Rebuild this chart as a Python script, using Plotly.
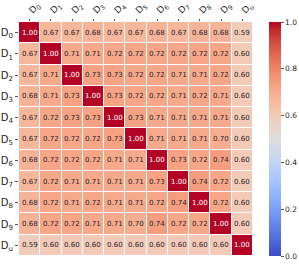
import plotly.graph_objects as go

labels = ["0", "1", "2", "3", "4", "5", "6", "7", "8", "9", "u"]
tick_text = ["D<sub>%s</sub>" % s for s in labels]

corr = [
    [1.00, 0.67, 0.67, 0.68, 0.67, 0.67, 0.68, 0.67, 0.68, 0.68, 0.59],
    [0.67, 1.00, 0.71, 0.71, 0.72, 0.72, 0.72, 0.72, 0.72, 0.72, 0.60],
    [0.67, 0.71, 1.00, 0.73, 0.73, 0.72, 0.72, 0.71, 0.71, 0.72, 0.60],
    [0.68, 0.71, 0.73, 1.00, 0.73, 0.72, 0.72, 0.71, 0.72, 0.71, 0.60],
    [0.67, 0.72, 0.73, 0.73, 1.00, 0.73, 0.71, 0.71, 0.71, 0.71, 0.60],
    [0.67, 0.72, 0.72, 0.72, 0.73, 1.00, 0.71, 0.71, 0.71, 0.70, 0.60],
    [0.68, 0.72, 0.72, 0.72, 0.71, 0.71, 1.00, 0.73, 0.72, 0.74, 0.60],
    [0.67, 0.72, 0.71, 0.71, 0.71, 0.71, 0.73, 1.00, 0.74, 0.72, 0.60],
    [0.68, 0.72, 0.71, 0.72, 0.71, 0.71, 0.72, 0.74, 1.00, 0.72, 0.60],
    [0.68, 0.72, 0.72, 0.71, 0.71, 0.70, 0.74, 0.72, 0.72, 1.00, 0.60],
    [0.59, 0.60, 0.60, 0.60, 0.60, 0.60, 0.60, 0.60, 0.60, 0.60, 1.00],
]

cw = [
    (59, 76, 192), (68, 90, 204), (77, 104, 215), (87, 117, 225), (98, 130, 234),
    (108, 142, 241), (119, 154, 247), (130, 165, 251), (141, 176, 254), (152, 185, 255),
    (163, 194, 255), (174, 201, 253), (184, 208, 249), (194, 213, 244), (204, 217, 238),
    (213, 219, 230), (221, 221, 221), (229, 216, 209), (236, 211, 197), (241, 204, 185),
    (245, 196, 173), (247, 187, 160), (247, 177, 148), (247, 166, 135), (244, 154, 123),
    (241, 141, 111), (236, 127, 99), (229, 112, 88), (222, 96, 77), (213, 80, 66),
    (203, 62, 56), (192, 40, 47), (180, 4, 38),
]
colorscale = [[i / (len(cw) - 1), "rgb(%d,%d,%d)" % c] for i, c in enumerate(cw)]

n = len(labels)
fig = go.Figure()
fig.add_trace(go.Heatmap(
    z=corr, x=list(range(n)), y=list(range(n)),
    zmin=0, zmax=1, colorscale=colorscale, xgap=1, ygap=1,
    hoverinfo="skip",
    colorbar=dict(
        x=1.068, xref="paper", xanchor="left", y=0.5, yanchor="middle",
        len=234, lenmode="pixels",
        thickness=12, thicknessmode="pixels", outlinewidth=0,
        ticks="outside", ticklen=3, tickwidth=1,
        tickcolor="#555", tickvals=[0, 0.2, 0.4, 0.6, 0.8, 1.0],
        ticktext=["0.0", "0.2", "0.4", "0.6", "0.8", "1.0"],
        tickfont=dict(size=7.5, color="#262626", family="DejaVu Sans"),
        xpad=0, ypad=0,
    ),
))

annotations = []
for i in range(n):
    for j in range(n):
        v = corr[i][j]
        annotations.append(dict(
            x=j, y=i, xref="x", yref="y", text="%.2f" % v, showarrow=False,
            font=dict(size=7, family="DejaVu Sans", color="white" if v > 0.9 else "#262626"),
        ))

fig.update_layout(
    width=299, height=264,
    margin=dict(l=19, r=46, t=22, b=8, autoexpand=False),
    paper_bgcolor="white", plot_bgcolor="white",
    annotations=annotations,
    font=dict(family="DejaVu Sans", color="#262626"),
    xaxis=dict(
        side="top", tickmode="array", tickvals=list(range(n)), ticktext=tick_text,
        tickangle=-45, ticks="outside", ticklen=2, tickcolor="#555", showgrid=False,
        zeroline=False, tickfont=dict(size=9), range=[-0.5, n - 0.5], automargin=False,
        ticklabelstandoff=0,
    ),
    yaxis=dict(
        tickmode="array", tickvals=list(range(n)), ticktext=tick_text,
        ticks="outside", ticklen=3, tickcolor="#555", showgrid=False, zeroline=False,
        tickfont=dict(size=10), range=[n - 0.5, -0.5], automargin=False,
    ),
)

fig.write_html("out.html", post_script="document.body.style.margin='0';",
               config={"displayModeBar": False})
